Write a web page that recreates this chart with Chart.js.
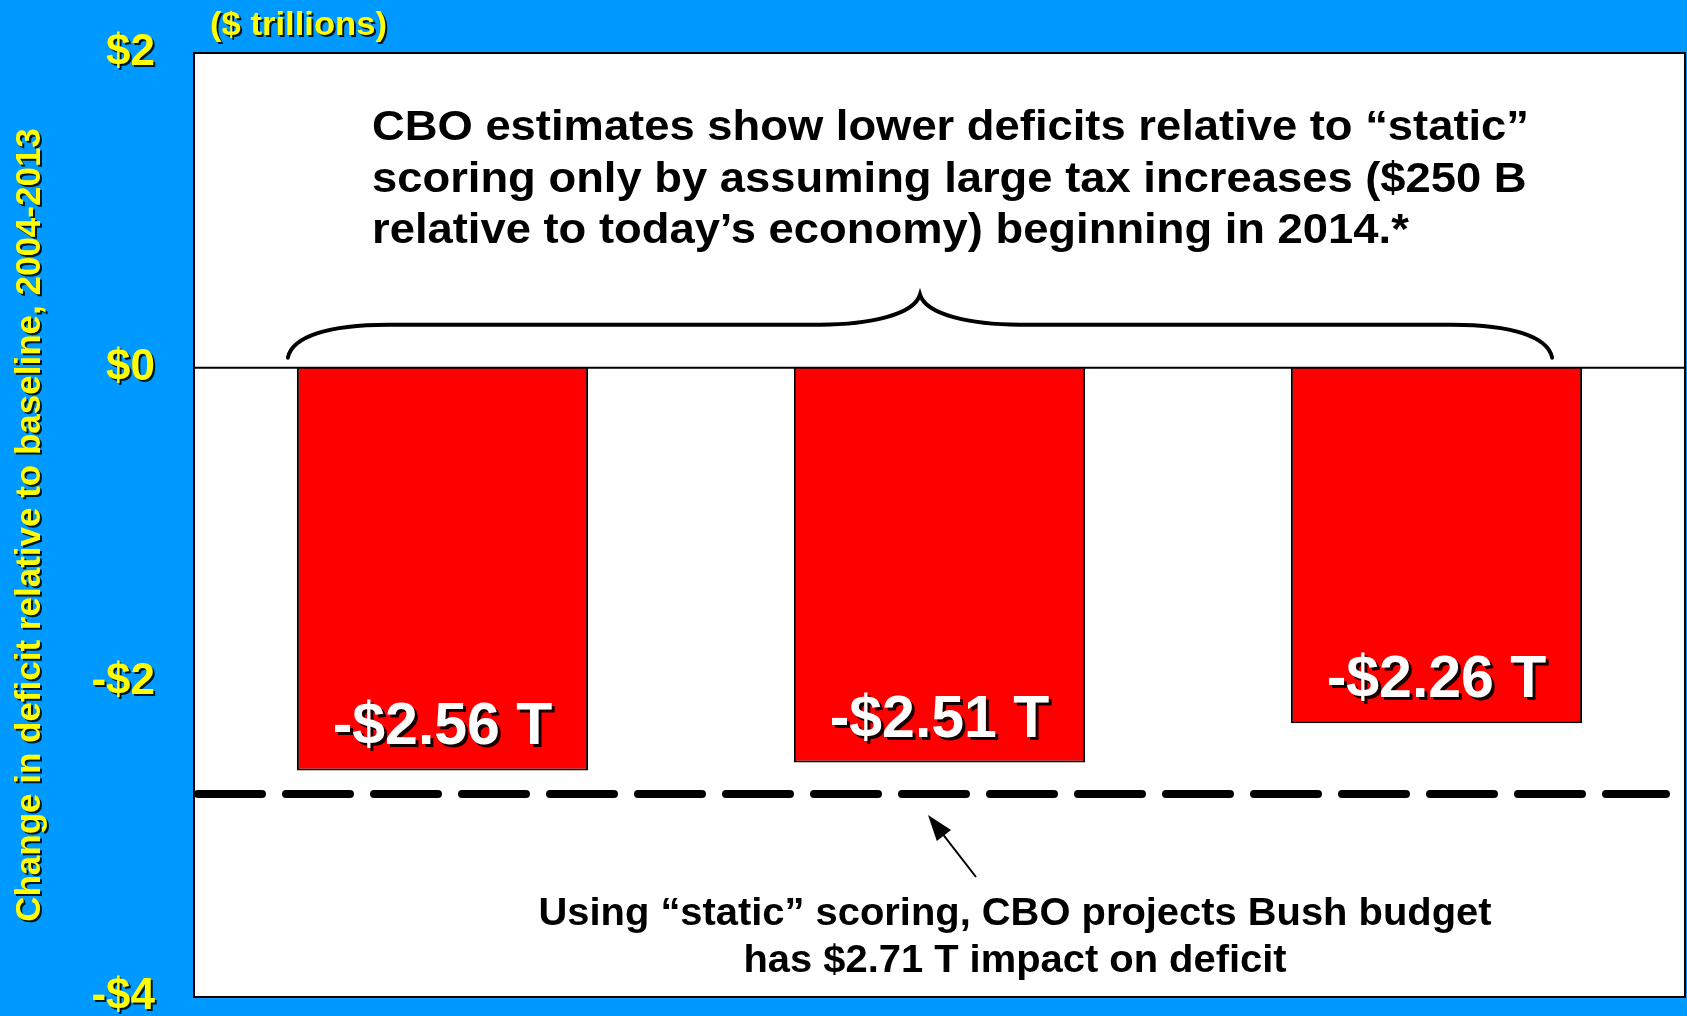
<!DOCTYPE html>
<html><head><meta charset="utf-8">
<script src="https://cdn.jsdelivr.net/npm/chart.js@4/dist/chart.umd.min.js"></script>
<style>
html,body{margin:0;padding:0;background:#0099FF;overflow:hidden}
#wrap{width:1687px;height:1016px;position:relative}
</style>
</head><body>
<div id="wrap"><canvas id="c"></canvas></div>
<script>
// ---- data ----
const categories = ['Estimate 1', 'Estimate 2', 'Estimate 3'];
const deficitChange = [-2.56, -2.51, -2.26];
const staticScoring = -2.71;
const tickValues = [2, 0, -2, -4];
const tickLabels = ['$2', '$0', '-$2', '-$4'];
const barLabels = ['-$2.56 T', '-$2.51 T', '-$2.26 T'];
const unitLabel = '($ trillions)';
const yTitle = 'Change in deficit relative to baseline, 2004-2013';
const topNote = [
  'CBO estimates show lower deficits relative to \u201Cstatic\u201D',
  'scoring only by assuming large tax increases ($250 B',
  'relative to today\u2019s economy) beginning in 2014.*'
];
const bottomNote = [
  'Using \u201Cstatic\u201D scoring, CBO projects Bush budget',
  'has $2.71 T impact on deficit'
];

const FONT = "'Liberation Sans', Arial, sans-serif";
const YELLOW = '#FFFF00';
const BLUE = '#0099FF';

// measure helper
const mctx = document.createElement('canvas').getContext('2d');
function measure(txt, font) { mctx.font = font; return mctx.measureText(txt).width; }
const yTitleSize = Math.round(100 * 792 / measure(yTitle, 'bold 100px ' + FONT));

function withShadow(ctx, color, dx, dy, fn) {
  ctx.save();
  ctx.shadowColor = color; ctx.shadowOffsetX = dx; ctx.shadowOffsetY = dy; ctx.shadowBlur = 0;
  fn(); ctx.restore();
}

const decorPlugin = {
  id: 'decor',
  beforeDraw(chart) {
    const {ctx, chartArea: a, width, height} = chart;
    ctx.save();
    ctx.fillStyle = BLUE; ctx.fillRect(0, 0, width, height);
    ctx.fillStyle = '#FFFFFF'; ctx.fillRect(a.left, a.top, a.right - a.left, a.bottom - a.top);
    ctx.restore();
  },
  afterDatasetsDraw(chart) {
    const {ctx, chartArea: a} = chart;
    const y = chart.scales.y;
    const meta = chart.getDatasetMeta(0);
    ctx.save();
    // zero line
    const y0 = y.getPixelForValue(0);
    ctx.strokeStyle = '#000'; ctx.lineWidth = 2;
    ctx.beginPath(); ctx.moveTo(a.left, y0); ctx.lineTo(a.right, y0); ctx.stroke();
    // static scoring dashed line
    const yd = y.getPixelForValue(staticScoring);
    ctx.lineWidth = 8; ctx.lineCap = 'round'; ctx.setLineDash([64, 24]);
    ctx.beginPath(); ctx.moveTo(a.left + 4, yd); ctx.lineTo(a.right - 19, yd); ctx.stroke();
    ctx.setLineDash([]);
    // bar labels
    ctx.font = 'bold 59px ' + FONT; ctx.textAlign = 'center'; ctx.textBaseline = 'alphabetic';
    ctx.fillStyle = '#FFFFFF';
    meta.data.forEach((bar, i) => {
      withShadow(ctx, 'rgba(0,0,0,0.9)', 3, 3, () => ctx.fillText(barLabels[i], bar.x, bar.y - 26));
    });
    // brace
    const yb = y0 - 43, ye = y0 - 10, yp = y0 - 73;
    const xl = meta.data[0].x - meta.data[0].width / 2 - 9;
    const xr = meta.data[2].x + meta.data[2].width / 2 - 30;
    const xm = 920;
    ctx.lineWidth = 4; ctx.lineCap = 'round'; ctx.strokeStyle = '#000';
    ctx.beginPath();
    ctx.moveTo(xl, ye);
    ctx.bezierCurveTo(xl + 4, yb + 12, xl + 40, yb, xl + 100, yb);
    ctx.lineTo(xm - 100, yb);
    ctx.bezierCurveTo(xm - 50, yb, xm - 6, yb - 10, xm, yp);
    ctx.bezierCurveTo(xm + 6, yb - 10, xm + 50, yb, xm + 100, yb);
    ctx.lineTo(xr - 100, yb);
    ctx.bezierCurveTo(xr - 40, yb, xr - 4, yb + 12, xr, ye);
    ctx.stroke();
    // arrow
    const tx = 976, ty = 877, hx = 928, hy = yd + 21;
    ctx.lineWidth = 2; ctx.lineCap = 'butt';
    const ang = Math.atan2(hy - ty, hx - tx);
    ctx.beginPath(); ctx.moveTo(tx, ty); ctx.lineTo(hx - 20 * Math.cos(ang), hy - 20 * Math.sin(ang)); ctx.stroke();
    ctx.fillStyle = '#000';
    ctx.beginPath();
    ctx.moveTo(hx, hy);
    ctx.lineTo(hx - 26 * Math.cos(ang) + 9 * Math.sin(ang), hy - 26 * Math.sin(ang) - 9 * Math.cos(ang));
    ctx.lineTo(hx - 26 * Math.cos(ang) - 9 * Math.sin(ang), hy - 26 * Math.sin(ang) + 9 * Math.cos(ang));
    ctx.closePath(); ctx.fill();
    // top note (condensed)
    ctx.fillStyle = '#000'; ctx.textAlign = 'left';
    const f1 = 'bold 42px ' + FONT; ctx.font = f1;
    const s1 = 1157 / ctx.measureText(topNote[0]).width;
    const base1 = [140, 192, 243];
    topNote.forEach((t, i) => {
      ctx.save(); ctx.translate(372, base1[i]); ctx.scale(s1, 1); ctx.fillText(t, 0, 0); ctx.restore();
    });
    // bottom note
    const f2 = 'bold 38px ' + FONT; ctx.font = f2;
    const s2 = 953 / ctx.measureText(bottomNote[0]).width;
    const base2 = [925, 972];
    ctx.textAlign = 'center';
    bottomNote.forEach((t, i) => {
      ctx.save(); ctx.translate(1015, base2[i]); ctx.scale(s2, 1); ctx.fillText(t, 0, 0); ctx.restore();
    });
    // plot border
    ctx.lineWidth = 2; ctx.strokeStyle = '#000';
    ctx.strokeRect(a.left, a.top, a.right - a.left, a.bottom - a.top);
    // unit label
    ctx.font = 'bold 34px ' + FONT; ctx.textAlign = 'left'; ctx.fillStyle = YELLOW;
    const su = 177 / ctx.measureText(unitLabel).width;
    withShadow(ctx, 'rgba(0,0,0,0.85)', 2, 2, () => {
      ctx.save(); ctx.translate(210, 35); ctx.scale(su, 1); ctx.fillText(unitLabel, 0, 0); ctx.restore();
    });
    ctx.restore();
  }
};

new Chart(document.getElementById('c'), {
  type: 'bar',
  data: {
    labels: categories,
    datasets: [{
      data: deficitChange,
      backgroundColor: '#FF0000',
      borderColor: '#000000',
      borderWidth: 2,
      categoryPercentage: 1.0,
      barPercentage: 0.586
    }]
  },
  plugins: [decorPlugin],
  options: {
    responsive: true,
    maintainAspectRatio: false,
    animation: false,
    layout: { padding: { top: 53, bottom: 19, left: 0, right: 2 } },
    plugins: { legend: { display: false }, tooltip: { enabled: false } },
    scales: {
      x: { display: false },
      y: {
        min: -4, max: 2,
        grid: { display: false, drawTicks: false },
        border: { display: false },
        afterBuildTicks(s) { s.ticks = tickValues.map(v => ({ value: v })); },
        ticks: {
          color: YELLOW,
          padding: 39,
          font: { family: FONT, size: 44, weight: 'bold' },
          callback: (v) => tickLabels[tickValues.indexOf(v)]
        },
        title: {
          display: true,
          text: yTitle,
          color: YELLOW,
          font: { family: FONT, size: yTitleSize, weight: 'bold' },
          padding: { top: 30 - yTitleSize * 0.6, bottom: 0 }
        },
        afterFit(s) { s.width = 194; s.paddingTop = 0; s.paddingBottom = 0; },
        afterUpdate(s) {
          if (!s._shadowWrapped) {
            s._shadowWrapped = true;
            const dl = s.drawLabels.bind(s), dt = s.drawTitle.bind(s);
            s.drawLabels = function (area) { withShadow(s.ctx, 'rgba(0,0,0,0.85)', 2, 2, () => dl(area)); };
            s.drawTitle = function () { withShadow(s.ctx, 'rgba(0,0,0,0.85)', 2, 2, () => dt()); };
          }
        }
      }
    }
  }
});
</script>
</body></html>
